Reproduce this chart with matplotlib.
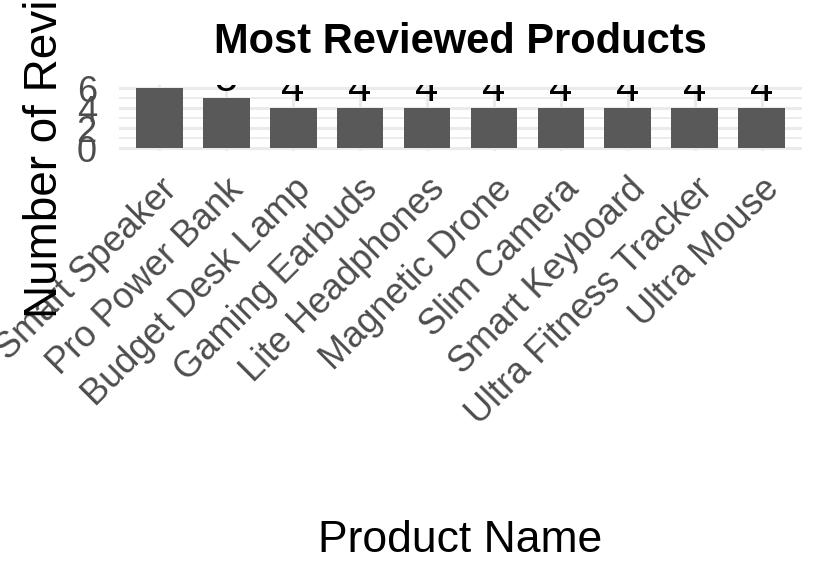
import matplotlib
matplotlib.use('Agg')
import matplotlib.pyplot as plt
import numpy as np

# Data
products = ['Smart Speaker', 'Pro Power Bank', 'Budget Desk Lamp', 'Gaming Earbuds',
            'Lite Headphones', 'Magnetic Drone', 'Slim Camera', 'Smart Keyboard',
            'Ultra Fitness Tracker', 'Ultra Mouse']
review_counts = [6, 5, 4, 4, 4, 4, 4, 4, 4, 4]
y_ticks = [0, 2, 4, 6]
y_minor = [1, 3, 5]

plt.rcParams['font.family'] = ['Liberation Sans', 'DejaVu Sans']

fig = plt.figure(figsize=(8.25, 5.87), dpi=100)
ax = fig.add_axes([119 / 825, 1 - 151 / 587, 683 / 825, 66 / 587])

x = np.arange(len(products))
ax.bar(x, review_counts, width=0.7, color='#595959', zorder=2)

# Count labels above bars (clipped to panel like ggplot)
for xi, v in zip(x, review_counts):
    ax.annotate(str(v), (xi, v), xytext=(0, 5), textcoords='offset points',
                ha='center', va='baseline', fontsize=30, color='black',
                annotation_clip=False, clip_on=True, zorder=3)

ax.set_xlim(-0.6, len(products) - 0.4)
ax.set_ylim(-0.3, 6.3)

# Grid
ax.set_yticks(y_ticks)
ax.set_yticks(y_minor, minor=True)
ax.set_xticks(x)
ax.grid(True, which='major', axis='both', color='#EBEBEB', linewidth=2.2, zorder=0)
ax.grid(True, which='minor', axis='y', color='#EBEBEB', linewidth=1.3, zorder=0)
ax.set_axisbelow(True)
for s in ax.spines.values():
    s.set_visible(False)

ax.set_yticklabels([str(t) for t in y_ticks], fontsize=26, color='#4D4D4D')
ax.set_xticklabels(products, fontsize=26, color='#4D4D4D', rotation=45,
                   ha='right', va='top', rotation_mode='anchor')
ax.tick_params(axis='both', which='both', length=0)
ax.tick_params(axis='y', pad=16)
ax.tick_params(axis='x', pad=15)

# Titles
ax.set_title('Most Reviewed Products', fontsize=30, fontweight='bold', pad=23)
ax.set_xlabel('Product Name', fontsize=32)
ax.xaxis.set_label_coords(0.5, (151 - 552) / 66)
ax.xaxis.label.set_va('baseline')
ax.set_ylabel('Number of Reviews', fontsize=33)
ax.yaxis.set_label_coords((57 - 119) / 683, 0.5)
ax.yaxis.label.set_va('baseline')

fig.savefig('out.png', dpi=100)
